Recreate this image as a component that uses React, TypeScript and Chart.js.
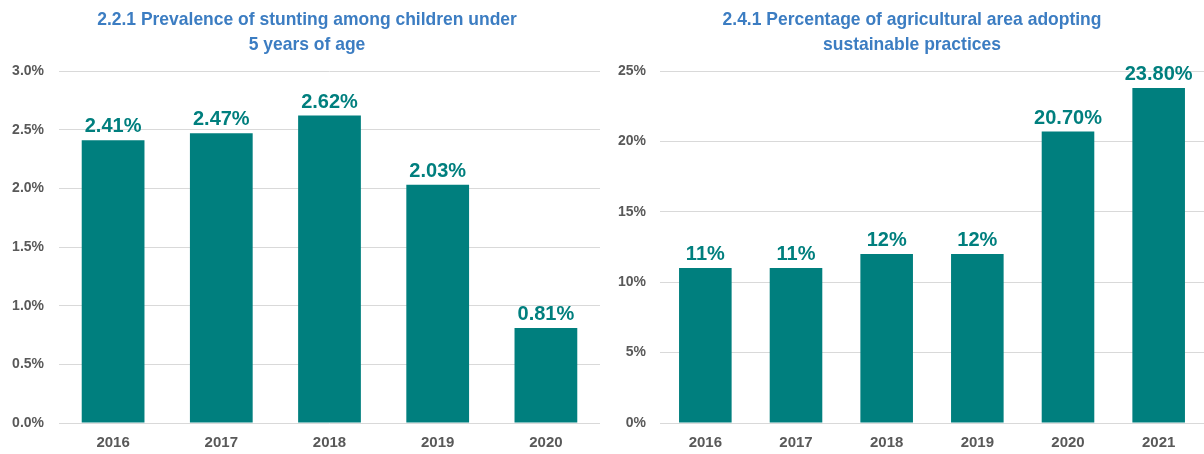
import React, { useEffect, useRef } from "react";
import { Chart, registerables } from "chart.js";

Chart.register(...registerables);

const leftTitle = ["2.2.1 Prevalence of stunting among children under", "5 years of age"];
const leftYears = ["2016", "2017", "2018", "2019", "2020"];
const leftValues = [2.41, 2.47, 2.62, 2.03, 0.81];
const leftLabels = ["2.41%", "2.47%", "2.62%", "2.03%", "0.81%"];

const rightTitle = ["2.4.1 Percentage of agricultural area adopting", "sustainable practices"];
const rightYears = ["2016", "2017", "2018", "2019", "2020", "2021"];
const rightValues = [11, 11, 12, 12, 20.7, 23.8];
const rightLabels = ["11%", "11%", "12%", "12%", "20.70%", "23.80%"];

const TEAL = "#007F7E";
const TITLE_BLUE = "#3C7DC2";
const TICK_GRAY = "#595959";
const GRID = "#D9D9D9";
const SANS = "'Liberation Sans', Arial, sans-serif";

const valueLabelPlugin = {
  id: "valueLabels",
  afterDatasetsDraw(chart: any) {
    const labels: string[] = chart.options.plugins.valueLabels.labels;
    const meta = chart.getDatasetMeta(0);
    const ctx = chart.ctx;
    ctx.save();
    ctx.font = `bold 20px ${SANS}`;
    ctx.fillStyle = TEAL;
    ctx.textAlign = "center";
    ctx.textBaseline = "alphabetic";
    meta.data.forEach((bar: any, i: number) => {
      ctx.fillText(labels[i], bar.x, bar.y - 8);
    });
    ctx.restore();
  },
};

const narrowTitlePlugin = {
  id: "narrowTitle",
  afterDraw(chart: any) {
    const o = chart.options.plugins.narrowTitle;
    const ctx = chart.ctx;
    ctx.save();
    ctx.font = `bold 18.5px ${SANS}`;
    ctx.fillStyle = TITLE_BLUE;
    ctx.textAlign = "center";
    ctx.textBaseline = "alphabetic";
    o.lines.forEach((line: string, i: number) => {
      ctx.save();
      ctx.translate(o.cx, 25 + i * 25);
      ctx.scale(0.945, 1);
      ctx.fillText(line, 0, 0);
      ctx.restore();
    });
    ctx.restore();
  },
};

function makeConfig(
  title: string[],
  titleCx: number,
  years: string[],
  values: number[],
  labels: string[],
  max: number,
  step: number,
  fmt: (v: number) => string,
  axisWidth: number,
  tickPad: number
): any {
  return {
    type: "bar",
    data: {
      labels: years,
      datasets: [
        {
          data: values,
          backgroundColor: TEAL,
          borderWidth: 0,
          categoryPercentage: 1,
          barPercentage: 0.58,
        },
      ],
    },
    plugins: [valueLabelPlugin, narrowTitlePlugin],
    options: {
      responsive: false,
      animation: false,
      maintainAspectRatio: false,
      layout: { padding: { top: 71, left: 0, right: 0, bottom: 0 } },
      plugins: {
        legend: { display: false },
        tooltip: { enabled: false },
        title: { display: false },
        valueLabels: { labels },
        narrowTitle: { lines: title, cx: titleCx },
      },
      scales: {
        x: {
          grid: { display: false, drawTicks: false },
          border: { display: false },
          afterFit(scale: any) {
            scale.height = 31;
          },
          ticks: {
            color: TICK_GRAY,
            font: { family: SANS, size: 15, weight: "bold", lineHeight: 1.2 },
            padding: 11,
          },
        },
        y: {
          min: 0,
          max,
          grid: { color: GRID, lineWidth: 1, drawTicks: false },
          border: { display: false },
          afterFit(scale: any) {
            scale.width = axisWidth;
          },
          ticks: {
            stepSize: step,
            color: TICK_GRAY,
            font: { family: SANS, size: 14, weight: "bold" },
            padding: tickPad,
            callback: (v: any) => fmt(Number(v)),
          },
        },
      },
    },
  };
}

function BarChart(props: { config: any; width: number; left: number }) {
  const ref = useRef<HTMLCanvasElement | null>(null);
  useEffect(() => {
    if (!ref.current) return;
    const chart = new Chart(ref.current, props.config);
    return () => chart.destroy();
  }, []);
  return (
    <canvas
      ref={ref}
      width={props.width}
      height={454}
      style={{ position: "absolute", left: props.left, top: 0, width: props.width, height: 454 }}
    />
  );
}

export default function App() {
  const leftConfig = makeConfig(
    leftTitle, 307, leftYears, leftValues, leftLabels, 3, 0.5,
    (v) => v.toFixed(1) + "%", 59, 15
  );
  const rightConfig = makeConfig(
    rightTitle, 312, rightYears, rightValues, rightLabels, 25, 5,
    (v) => v.toFixed(0) + "%", 60, 14
  );
  return (
    <div style={{ position: "fixed", left: 0, top: 0, width: 1204, height: 454, background: "#fff" }}>
      <BarChart config={leftConfig} width={600} left={0} />
      <BarChart config={rightConfig} width={604} left={600} />
    </div>
  );
}
